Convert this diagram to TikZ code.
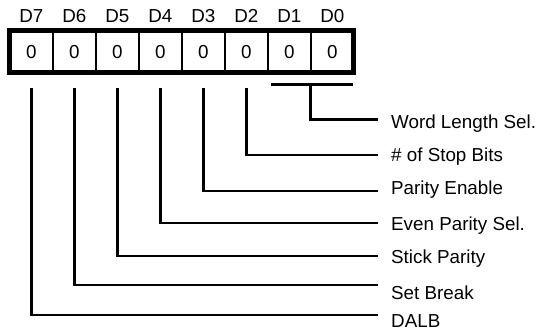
\documentclass[tikz,border=0pt]{standalone}
\usepackage{fontspec}
\setmainfont{Liberation Sans}
\usetikzlibrary{positioning}

\begin{document}
\begin{tikzpicture}[x=1pt, y=-1pt,
    cell/.style={draw, line width=1.8pt, minimum width=43pt, minimum height=41.7pt,
                 inner sep=0pt, outer sep=0pt, font=\fontsize{18.8}{22}\selectfont},
    txt/.style={inner sep=0pt, font=\fontsize{18.8}{22}\selectfont},
    wire/.style={line width=2.8pt}]
    \useasboundingbox (0,0) rectangle (540,333);

    % Thanh ghi 8 bit
    \node[cell] (c7) at (31.3,51.65) {0};
    \node[cell, right=0pt of c7] (c6) {0};
    \node[cell, right=0pt of c6] (c5) {0};
    \node[cell, right=0pt of c5] (c4) {0};
    \node[cell, right=0pt of c4] (c3) {0};
    \node[cell, right=0pt of c3] (c2) {0};
    \node[cell, right=0pt of c2] (c1) {0};
    \node[cell, right=0pt of c1] (c0) {0};
    \draw[line width=5pt] (c7.north west) rectangle (c0.south east);

    % Ten cac bit
    \node[txt, above=8.1pt of c7] (d7) {D7};
    \node[txt, above=8.1pt of c6] (d6) {D6};
    \node[txt, above=8.1pt of c5] (d5) {D5};
    \node[txt, above=8.1pt of c4] (d4) {D4};
    \node[txt, above=8.1pt of c3] (d3) {D3};
    \node[txt, above=8.1pt of c2] (d2) {D2};
    \node[txt, above=8.1pt of c1] (d1) {D1};
    \node[txt, above=8.1pt of c0] (d0) {D0};

    % Nhan chuc nang
    \node[txt, anchor=base west] (wls)   at (391,128.3) {Word Length Sel.};
    \node[txt, anchor=base west] (stop)  at (391,161.7) {\# of Stop Bits};
    \node[txt, anchor=base west] (pen)   at (391,194)   {Parity Enable};
    \node[txt, anchor=base west] (eps)   at (391,230)   {Even Parity Sel.};
    \node[txt, anchor=base west] (stick) at (391,263.3) {Stick Parity};
    \node[txt, anchor=base west] (brk)   at (391,299.3) {Set Break};
    \node[txt, anchor=base west] (dalb)  at (391,327.3) {DALB};

    % Diem dau va diem cuoi cua cac duong
    \coordinate (top) at (0,88);
    \coordinate (bar) at (0,84.5);
    \coordinate (bl) at (271,84.5);
    \coordinate (br) at (352.5,84.5);
    \coordinate (e0) at (378,119.5);
    \coordinate (e2) at (378,155);
    \coordinate (e3) at (378,191);
    \coordinate (e4) at (378,223);
    \coordinate (e5) at (378,256);
    \coordinate (e6) at (378,285);
    \coordinate (e7) at (378,315);

    % Cac duong noi
    \draw[wire] (bl) -- (br);
    \draw[wire] (c1.south east |- bar) |- (e0);
    \draw[wire] (c2 |- top) |- (e2);
    \draw[wire] (c3 |- top) |- (e3);
    \draw[wire] (c4 |- top) |- (e4);
    \draw[wire] (c5 |- top) |- (e5);
    \draw[wire] (c6 |- top) |- (e6);
    \draw[wire] (c7 |- top) |- (e7);
\end{tikzpicture}
\end{document}
